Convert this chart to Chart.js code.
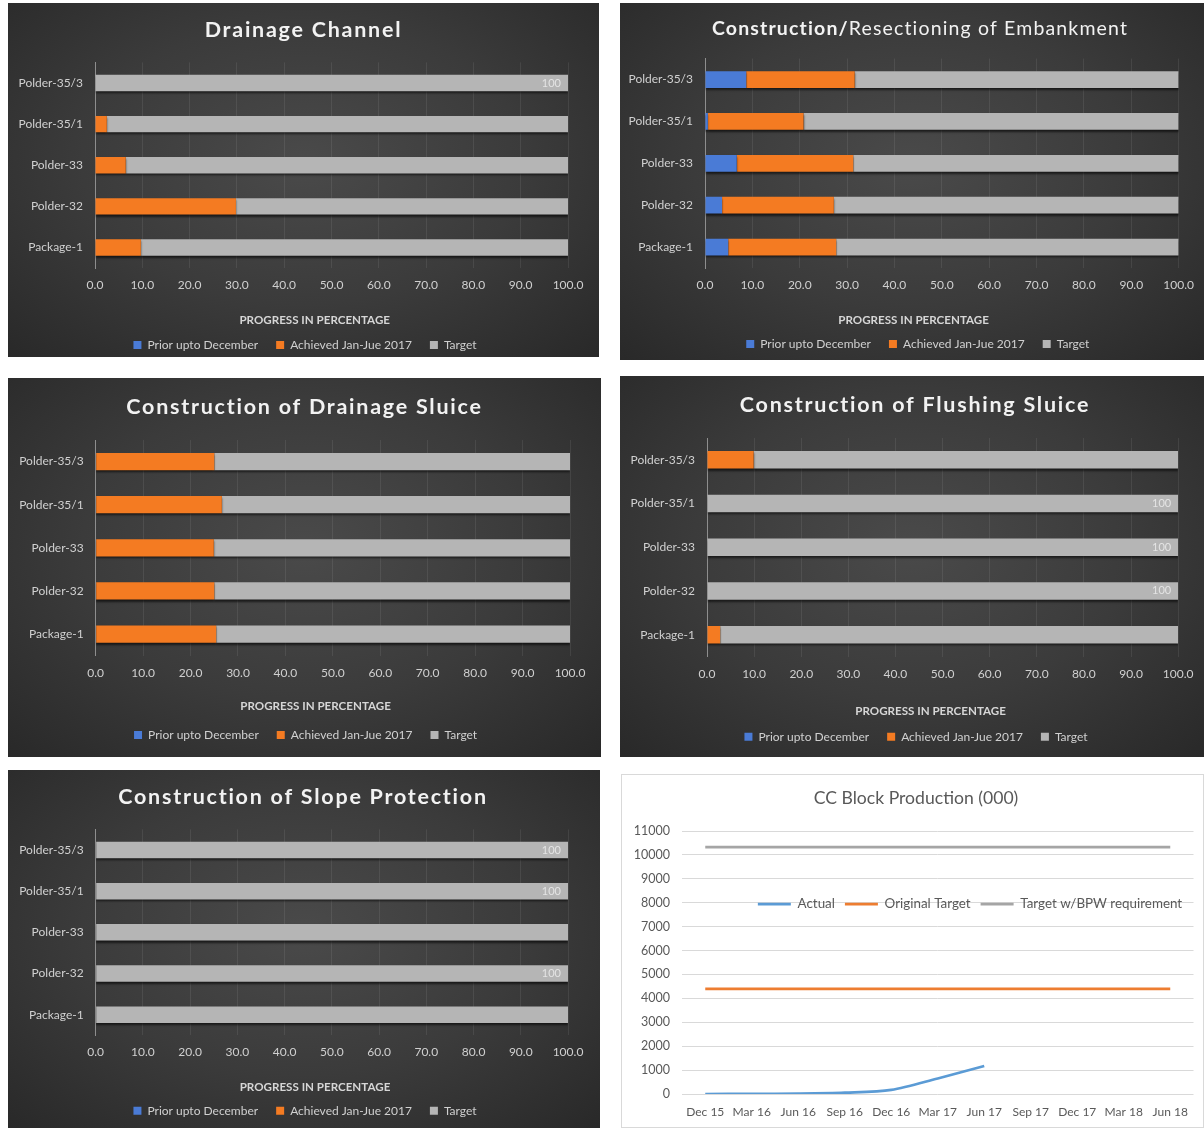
<!DOCTYPE html>
<html>
<head>
<meta charset="utf-8">
<script src="https://cdn.jsdelivr.net/npm/chart.js@4.4.0/dist/chart.umd.min.js"></script>
<style>
html, body { margin: 0; padding: 0; background: #fff; }
body { position: relative; width: 1204px; height: 1128px; overflow: hidden; }
.panel { position: absolute; overflow: hidden; }
.dark { background: radial-gradient(ellipse 75% 80% at 50% 45%, #4a4a4a 0%, #3b3b3b 50%, #272727 100%); }
.light { background: #fff; border: 1px solid #d9d9d9; box-sizing: border-box; }
canvas { position: absolute; left: 0; top: 0; }
</style>
</head>
<body>
<div class="panel dark" style="left:8px;top:3px;width:591px;height:354px"><canvas id="c1"></canvas></div>
<div class="panel dark" style="left:620px;top:3px;width:584px;height:357px"><canvas id="c2"></canvas></div>
<div class="panel dark" style="left:8px;top:378px;width:593px;height:379px"><canvas id="c3"></canvas></div>
<div class="panel dark" style="left:620px;top:376px;width:584px;height:381px"><canvas id="c4"></canvas></div>
<div class="panel dark" style="left:8px;top:770px;width:592px;height:358px"><canvas id="c5"></canvas></div>
<div class="panel light" style="left:621px;top:774px;width:583px;height:354px"><canvas id="c6"></canvas></div>
<script>
// categories and series shared by the five progress charts
var categories = ['Polder-35/3', 'Polder-35/1', 'Polder-33', 'Polder-32', 'Package-1'];
var seriesNames = ['Prior upto December', 'Achieved Jan-Jue 2017', 'Target'];

// Drainage Channel
var drainPrior    = [0, 0, 0, 0, 0];
var drainAchieved = [0, 2.5, 6.5, 29.8, 9.7];
var drainTarget   = [100, 97.5, 93.5, 70.2, 90.3];
var drainLabels   = [true, false, false, false, false];

// Construction/Resectioning of Embankment
var embPrior    = [8.7, 0.6, 6.7, 3.6, 4.9];
var embAchieved = [22.9, 20.2, 24.6, 23.6, 22.8];
var embTarget   = [68.4, 79.2, 68.7, 72.8, 72.3];
var embLabels   = [false, false, false, false, false];

// Construction of Drainage Sluice
var dsPrior    = [0, 0, 0, 0, 0];
var dsAchieved = [25.0, 26.6, 24.9, 25.0, 25.4];
var dsTarget   = [75.0, 73.4, 75.1, 75.0, 74.6];
var dsLabels   = [false, false, false, false, false];

// Construction of Flushing Sluice
var fsPrior    = [0, 0, 0, 0, 0];
var fsAchieved = [9.9, 0, 0, 0, 2.8];
var fsTarget   = [90.1, 100, 100, 100, 97.2];
var fsLabels   = [false, true, true, true, false];

// Construction of Slope Protection
var spPrior    = [0, 0, 0, 0, 0];
var spAchieved = [0, 0, 0, 0, 0];
var spTarget   = [100, 100, 100, 100, 100];
var spLabels   = [true, true, false, true, false];

// CC Block Production (000)
var quarters = ['Dec 15', 'Mar 16', 'Jun 16', 'Sep 16', 'Dec 16', 'Mar 17', 'Jun 17', 'Sep 17', 'Dec 17', 'Mar 18', 'Jun 18'];
var ccActual = [0, 5, 15, 55, 170, 650, 1170, null, null, null, null];
var ccOriginal = [4400, 4400, 4400, 4400, 4400, 4400, 4400, 4400, 4400, 4400, 4400];
var ccBpw = [10330, 10330, 10330, 10330, 10330, 10330, 10330, 10330, 10330, 10330, 10330];
var ccNames = ['Actual', 'Original Target', 'Target w/BPW requirement'];

var FONT = 'Lato, "Open Sans", sans-serif';
Chart.defaults.font.family = FONT;

// free text (titles) drawn on the canvas, with letter spacing
var textPlugin = {
    id: 'texts',
    afterDraw: function(chart, args, opts) {
        var ctx = chart.ctx;
        (opts.items || []).forEach(function(it) {
            ctx.save();
            ctx.fillStyle = it.color;
            ctx.textBaseline = 'middle';
            ctx.textAlign = 'left';
            if ('letterSpacing' in ctx) ctx.letterSpacing = (it.spacing || 0) + 'px';
            var parts = it.parts || [{text: it.text, weight: it.weight}];
            var widths = [], total = 0;
            parts.forEach(function(p) {
                ctx.font = p.weight + ' ' + it.size + 'px ' + FONT;
                var w = ctx.measureText(p.text).width;
                widths.push(w);
                total += w;
            });
            var x = it.x - total / 2;
            parts.forEach(function(p, i) {
                ctx.font = p.weight + ' ' + it.size + 'px ' + FONT;
                ctx.fillText(p.text, x, it.y);
                x += widths[i];
            });
            ctx.restore();
        });
    }
};

// put the legend where the original has it
var legendPlace = {
    id: 'legendPlace',
    afterLayout: function(chart, args, opts) {
        var lg = chart.legend;
        if (!lg || opts.x == null) return;
        var dx = opts.x - (lg.left + lg.right) / 2;
        var dy = opts.y - (lg.top + opts.offset);
        lg.left += dx; lg.right += dx;
        lg.top += dy; lg.bottom += dy;
    }
};

// bar shadow + "100" labels on the target bars
var barDeco = {
    id: 'barDeco',
    beforeDatasetsDraw: function(chart) {
        var c = chart.ctx;
        c.save();
        c.shadowColor = 'rgba(0,0,0,0.6)';
        c.shadowBlur = 2;
        c.shadowOffsetY = 2;
    },
    afterDatasetsDraw: function(chart, args, opts) {
        var c = chart.ctx;
        c.restore();
        var flags = opts.flags;
        if (!flags) return;
        var meta = chart.getDatasetMeta(2);
        var vals = chart.data.datasets[2].data;
        c.save();
        c.font = '11px ' + FONT;
        c.fillStyle = '#e4e4e4';
        c.textAlign = 'right';
        c.textBaseline = 'middle';
        meta.data.forEach(function(el, i) {
            if (flags[i]) c.fillText(String(vals[i]), el.x - 7, el.y);
        });
        c.restore();
    }
};

var tickColor = '#d0d0d0';

function barChart(id, g, titleItem, prior, achieved, target, flags) {
    var cv = document.getElementById(id);
    cv.width = g.w;
    cv.height = g.h;
    var legPad = 18, fs = 12;
    var legendH = fs + legPad + 10;
    titleItem.x = g.tx; titleItem.y = g.ty;
    titleItem.size = titleItem.size || 21.5;
    titleItem.spacing = titleItem.spacing || 1.75;
    titleItem.color = '#f2f2f2';
    return new Chart(cv, {
        type: 'bar',
        data: {
            labels: categories,
            datasets: [
                {label: seriesNames[0], data: prior, backgroundColor: '#4a7bd6', borderWidth: 0},
                {label: seriesNames[1], data: achieved, backgroundColor: '#f47b22', borderWidth: 0},
                {label: seriesNames[2], data: target, backgroundColor: '#b5b5b5', borderWidth: 0}
            ]
        },
        options: {
            indexAxis: 'y',
            responsive: false,
            animation: false,
            layout: {padding: {left: 0, right: g.w - g.r, top: g.t, bottom: 0}},
            datasets: {bar: {categoryPercentage: 1, barPercentage: 0.4}},
            scales: {
                x: {
                    stacked: true, min: 0, max: 100,
                    ticks: {stepSize: 10, callback: function(v) { return v.toFixed(1); }, color: tickColor,
                            font: {size: 12}, padding: g.tick - g.b - 7, maxRotation: 0},
                    grid: {color: 'rgba(255,255,255,0.08)', drawTicks: false},
                    border: {display: false},
                    afterFit: function(s) { s.height = g.h - g.b - legendH; }
                },
                y: {
                    stacked: true,
                    grid: {display: false, drawTicks: false},
                    border: {color: '#8e8e8e', width: 1},
                    ticks: {color: tickColor, font: {size: 12}, padding: 12},
                    afterFit: function(s) { s.width = g.l; }
                }
            },
            plugins: {
                legend: {position: 'bottom', labels: {boxWidth: 8, boxHeight: 8, padding: legPad, color: tickColor, font: {size: fs}}},
                tooltip: {enabled: false},
                legendPlace: {x: g.lx, y: g.ly, offset: legPad + fs / 2},
                barDeco: {flags: flags},
                texts: {items: [
                    titleItem,
                    {text: 'PROGRESS IN PERCENTAGE', weight: 'bold', size: 11.6, color: '#d6d6d6', x: g.ax, y: g.ay}
                ]}
            }
        },
        plugins: [textPlugin, legendPlace, barDeco]
    });
}

barChart('c1', {w: 591, h: 354, l: 87, r: 560, t: 59.4, b: 265.1, tick: 282, tx: 295.5, ty: 27, ax: 306.7, ay: 317, lx: 297, ly: 342},
    {text: 'Drainage Channel', weight: 'bold'}, drainPrior, drainAchieved, drainTarget, drainLabels);
barChart('c2', {w: 584, h: 357, l: 85, r: 563, t: 55.6, b: 265, tick: 282, tx: 300, ty: 25.3, ax: 293.6, ay: 317, lx: 297.8, ly: 341},
    {parts: [{text: 'Construction/', weight: 'bold'}, {text: 'Resectioning of Embankment', weight: 'normal'}], size: 19.5, spacing: 1.15},
    embPrior, embAchieved, embTarget, embLabels);
barChart('c3', {w: 593, h: 379, l: 87.7, r: 562, t: 62, b: 277.6, tick: 294.7, tx: 296.5, ty: 28.7, ax: 307.6, ay: 328.7, lx: 297.6, ly: 357},
    {text: 'Construction of Drainage Sluice', weight: 'bold'}, dsPrior, dsAchieved, dsTarget, dsLabels);
barChart('c4', {w: 584, h: 381, l: 87, r: 559.6, t: 62, b: 280.5, tick: 298, tx: 295, ty: 29, ax: 310.6, ay: 335.7, lx: 296, ly: 360.7},
    {text: 'Construction of Flushing Sluice', weight: 'bold'}, fsPrior, fsAchieved, fsTarget, fsLabels);
barChart('c5', {w: 592, h: 358, l: 87.7, r: 560, t: 59.4, b: 265.3, tick: 282.3, tx: 295, ty: 26.7, ax: 307, ay: 317.7, lx: 297, ly: 340.7},
    {text: 'Construction of Slope Protection', weight: 'bold'}, spPrior, spAchieved, spTarget, spLabels);

// CC block production line chart
(function() {
    var cv = document.getElementById('c6');
    var W = 581, H = 352;
    cv.width = W;
    cv.height = H;
    var legPad = 10, fs = 13.4;
    var legendH = fs + legPad + 10;
    var txt = '#595959';
    new Chart(cv, {
        type: 'line',
        data: {
            labels: quarters,
            datasets: [
                {label: ccNames[0], data: ccActual, borderColor: '#5b9bd5', backgroundColor: '#5b9bd5', borderWidth: 2.75, pointRadius: 0, tension: 0.3, spanGaps: false},
                {label: ccNames[1], data: ccOriginal, borderColor: '#ed7d31', backgroundColor: '#ed7d31', borderWidth: 2.75, pointRadius: 0},
                {label: ccNames[2], data: ccBpw, borderColor: '#a5a5a5', backgroundColor: '#a5a5a5', borderWidth: 2.75, pointRadius: 0}
            ]
        },
        options: {
            responsive: false,
            animation: false,
            layout: {padding: {left: 0, right: W - 571.5, top: 56 - legendH, bottom: 0}},
            scales: {
                x: {
                    offset: true,
                    grid: {display: false, drawTicks: false},
                    border: {display: false},
                    ticks: {color: txt, font: {size: 12}, padding: 11, maxRotation: 0, autoSkip: false},
                    afterFit: function(s) { s.height = H - 319; }
                },
                y: {
                    min: 0, max: 11000,
                    ticks: {stepSize: 1000, color: txt, font: {size: 12.5}, padding: 12,
                            callback: function(v) { return String(v); }},
                    grid: {color: '#d9d9d9', drawTicks: false},
                    border: {display: false},
                    afterFit: function(s) { s.width = 60; }
                }
            },
            plugins: {
                legend: {position: 'top', labels: {usePointStyle: true, pointStyle: 'line', pointStyleWidth: 33, boxHeight: 12,
                         padding: legPad, color: txt, font: {size: fs}}},
                tooltip: {enabled: false},
                legendPlace: {x: 348, y: 129, offset: legPad + fs / 2},
                texts: {items: [
                    {text: 'CC Block Production (000)', weight: 'normal', size: 17.6, color: txt, x: 294, y: 23.3, spacing: 0}
                ]}
            }
        },
        plugins: [textPlugin, legendPlace]
    });
})();
</script>
</body>
</html>
